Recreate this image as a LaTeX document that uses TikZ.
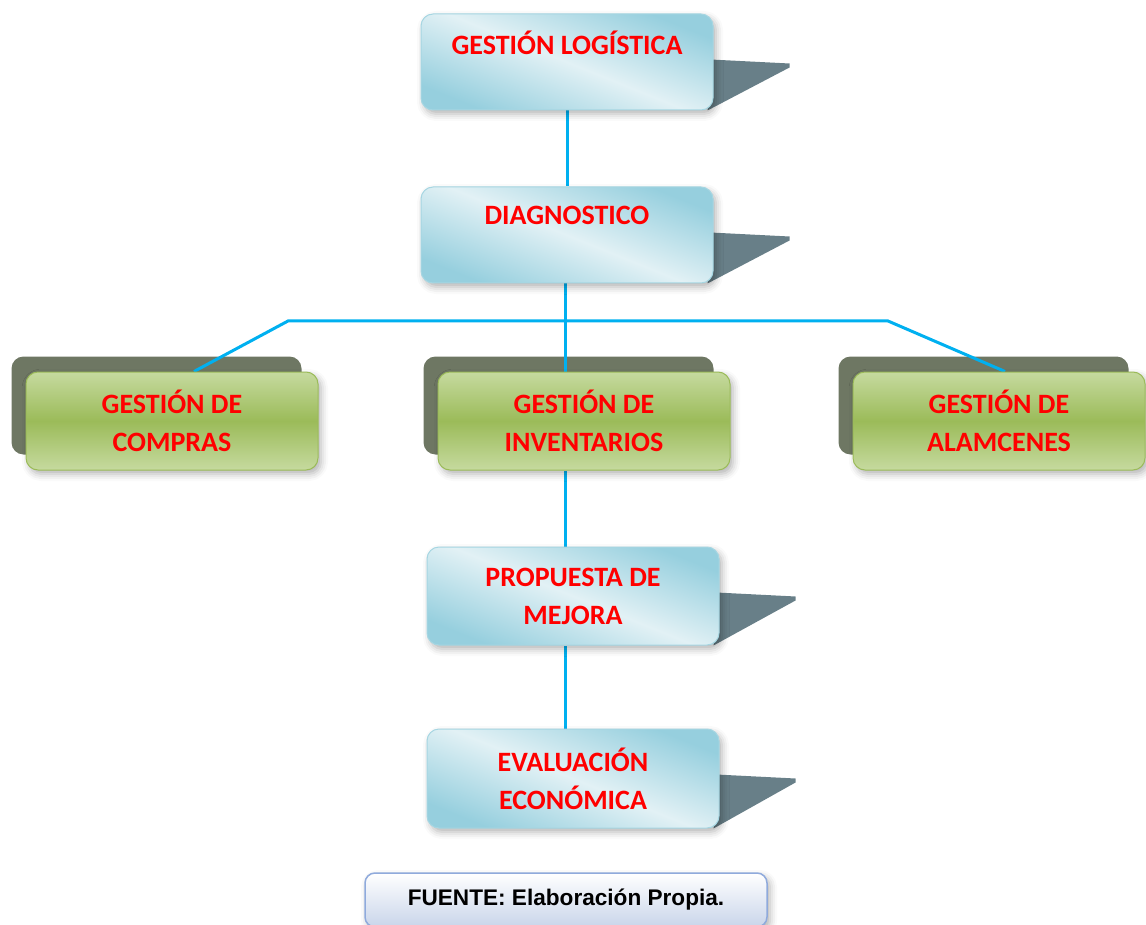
\documentclass[tikz,border=0pt]{standalone}
\usepackage{fontspec}
\newfontfamily\lblfont{Carlito}
\newfontfamily\srcfont{Liberation Sans}
\usetikzlibrary{calc,backgrounds,shadows.blur}
\definecolor{lineblue}{HTML}{00B0F0}
\definecolor{bluedark}{HTML}{96CFDE}
\definecolor{bluelight}{HTML}{E2F1F5}
\definecolor{blueedge}{HTML}{A6D6E2}
\definecolor{greenmid}{HTML}{9BBB59}
\definecolor{greenlight}{HTML}{C6DA9F}
\definecolor{greenedge}{HTML}{9BBB59}
\definecolor{shadowblue}{HTML}{687F88}
\definecolor{shadowgreen}{HTML}{6E7763}
\definecolor{srcedge}{HTML}{8FAADC}
\definecolor{srcfill}{HTML}{C9D5EA}
\begin{document}
\begin{tikzpicture}[x=1pt,y=-1pt,
  softshadow/.style={blur shadow={shadow xshift=3pt,shadow yshift=-4pt,shadow blur radius=7pt,shadow opacity=30}},
  lbl/.style={align=center,text=red,font=\lblfont\bfseries\fontsize{28}{38}\selectfont,inner sep=0pt},
  bluebox/.style={lbl,softshadow,rounded corners=12pt,minimum width=292pt,minimum height=96pt,
    draw=blueedge,line width=1pt,top color=bluedark,bottom color=bluedark,middle color=bluelight,shading angle=-22},
  greenbox/.style={lbl,softshadow,rounded corners=12pt,minimum width=292pt,minimum height=98pt,
    draw=greenedge,line width=1pt,top color=greenlight,bottom color=greenlight,middle color=greenmid},
  srcbox/.style={softshadow,rounded corners=10pt,minimum width=402pt,minimum height=54pt,draw=srcedge,line width=1.5pt,
    top color=white,bottom color=srcfill,font=\srcfont\bfseries\fontsize{22.6}{26}\selectfont,inner sep=0pt},
  conn/.style={draw=lineblue,line width=3pt},
  flagshadow/.style={fill=shadowblue},
  stackshadow/.style={fill=shadowgreen,rounded corners=12pt}]
\useasboundingbox (0,0) rectangle (1146,925);
% boxes
\node[bluebox] (log) at (567,62) {GESTIÓN LOGÍSTICA\\[-10pt]\strut};
\node[bluebox] (diag) at (567,235) {DIAGNOSTICO\\[-10pt]\strut};
\node[greenbox] (comp) at (172,421) {GESTIÓN DE\\COMPRAS};
\node[greenbox] (inv) at (584,421) {GESTIÓN DE\\INVENTARIOS};
\node[greenbox] (alm) at (999,421) {GESTIÓN DE\\ALAMCENES};
\node[bluebox,minimum height=98pt] (prop) at (573,596) {PROPUESTA DE\\MEJORA};
\node[bluebox,minimum height=99pt] (eval) at (573,778.5) {EVALUACIÓN\\ECONÓMICA};
\node[srcbox] (src) at (566,900) {FUENTE: Elaboración Propia.};
\coordinate (jl) at (288,321);
\coordinate (jr) at (888,321);
\begin{scope}[on background layer]
  % flag-like shadows of the blue boxes
  \foreach \n in {log,diag,prop,eval}{
    \fill[flagshadow] ($(\n.north east)+(-3,46)$) -- ($(\n.north east)+(76,50)$)
      -- ($(\n.north east)+(76,54)$) -- ($(\n.south east)+(-6,0)$) -- ($(\n.south east)+(-3,-20)$) -- cycle;
  }
  % stacked shadows of the green boxes
  \foreach \n in {comp,inv,alm}{
    \fill[stackshadow] ($(\n.north west)+(-14,-15)$) rectangle ($(\n.south east)+(-17,-16)$);
  }
  % connectors
  \draw[conn] (log.south) -- (diag.north);
  \draw[conn] (diag.south -| 565,0) -- (inv.north -| 565,0);
  \draw[conn] ($(comp.north)+(22,0)$) -- (jl) -- (jr) -- ($(alm.north)+(6,0)$);
  \draw[conn] (inv.south -| 565,0) -- (prop.north -| 565,0);
  \draw[conn] (prop.south -| 565,0) -- (eval.north -| 565,0);
\end{scope}
\end{tikzpicture}
\end{document}
